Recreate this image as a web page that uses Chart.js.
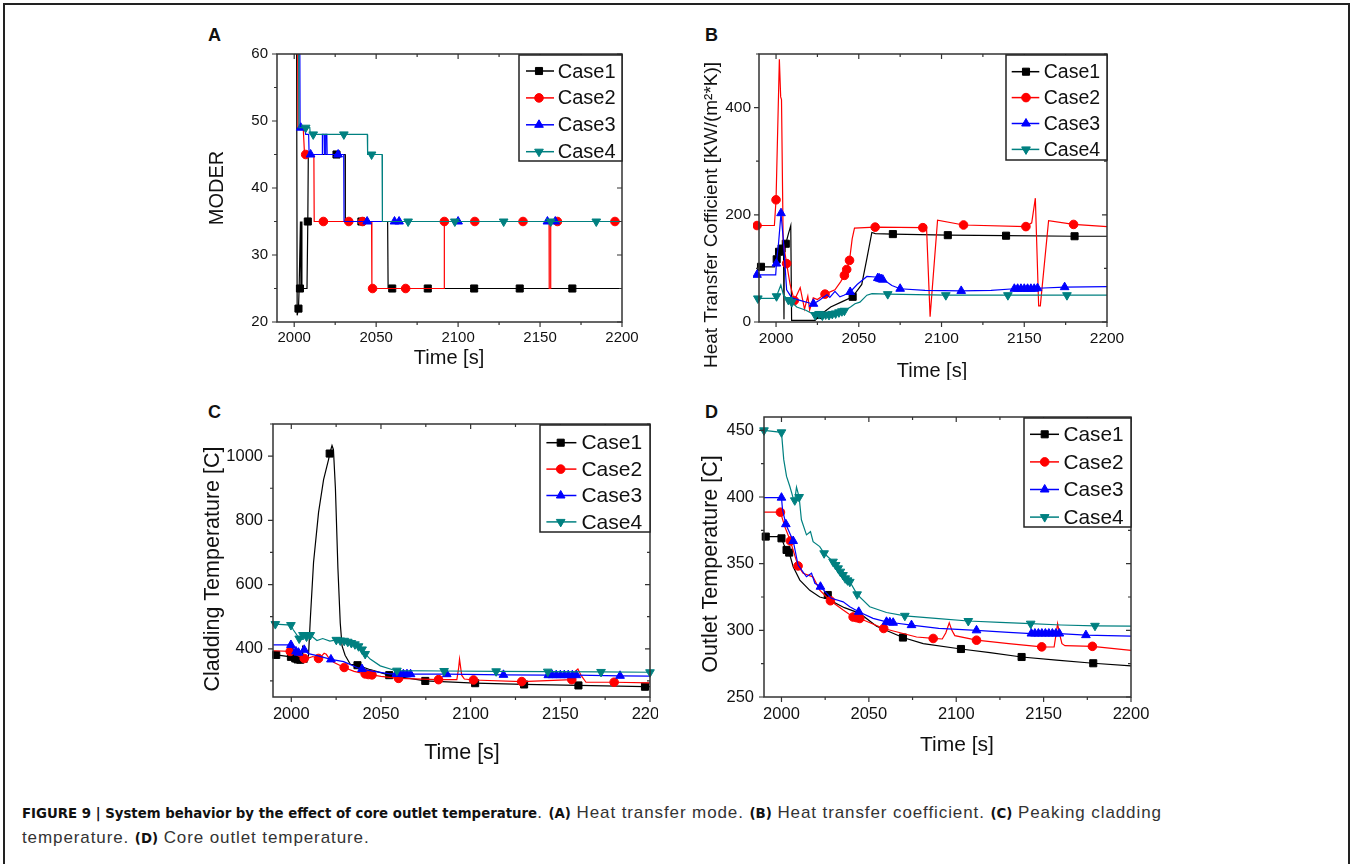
<!DOCTYPE html>
<html>
<head>
<meta charset="utf-8">
<script src="https://cdn.jsdelivr.net/npm/chart.js@4.4.1/dist/chart.umd.min.js"></script>
<style>
  html, body { margin: 0; padding: 0; background: #fff; }
  body { width: 1352px; height: 864px; position: relative; overflow: hidden; font-family: 'Liberation Sans', Arial, sans-serif; }
  .frame { position: absolute; left: 3px; top: 3px; width: 1343px; height: 900px; border: 2px solid #222; }
  canvas { position: absolute; }
  .tag { position: absolute; font-weight: bold; font-size: 18px; line-height: 1; color: #111; }
  .caption { position: absolute; left: 22px; top: 800px; white-space: nowrap; font-family: 'Liberation Sans', Arial, sans-serif; font-size: 17px; letter-spacing: 0.9px; line-height: 25px; color: #333; }
  .caption b { font-family: 'DejaVu Sans Condensed', 'Liberation Sans Narrow', sans-serif; font-size: 14.8px; letter-spacing: 0; color: #111; }
</style>
</head>
<body>
<div class="frame"></div>
<div class="tag" style="left:208px; top:25.6px">A</div>
<div class="tag" style="left:705px; top:25.6px">B</div>
<div class="tag" style="left:208px; top:402.6px">C</div>
<div class="tag" style="left:705px; top:402.6px">D</div>
<canvas id="chartA" width="460" height="360" style="left:180px; top:20px"></canvas>
<canvas id="chartB" width="460" height="360" style="left:680px; top:20px"></canvas>
<canvas id="chartC" width="478" height="380" style="left:180px; top:390px"></canvas>
<canvas id="chartD" width="470" height="375" style="left:690px; top:395px"></canvas>
<div class="caption"><b>FIGURE 9 | System behavior by the effect of core outlet temperature</b>. <b>(A)</b> Heat transfer mode. <b>(B)</b> Heat transfer coefficient. <b>(C)</b> Peaking cladding<br>temperature. <b>(D)</b> Core outlet temperature.</div>
<script>
// Series names and look
const caseNames = ['Case1', 'Case2', 'Case3', 'Case4'];
const caseColors = ['#000000', '#ff0000', '#0000ff', '#008080'];
const caseStyles = ['rect', 'circle', 'triangle', 'triangle'];
const caseRotation = [0, 0, 0, 180];
const caseRadius = [5, 4.3, 5, 5];

// Shared time axis ticks
const xTicks = [2000, 2025, 2050, 2075, 2100, 2125, 2150, 2175, 2200];
const xLabelled = [2000, 2050, 2100, 2150, 2200];

// (A) MODER: times, values, marker times
const modeT1 = [1990, 2001.4, 2001.8, 2002.6, 2003.0, 2003.5, 2003.8, 2004.1, 2004.4, 2004.7, 2005.0, 2007.8, 2008.3, 2008.6, 2025.8, 2031.0, 2031.2, 2041.0, 2057.0, 2057.3, 2059.8, 2081.5, 2109.8, 2137.6, 2169.7, 2200];
const modeV1 = [70, 70, 21, 22, 25, 25, 35, 25, 35, 25, 25, 25, 35, 45, 45, 45, 35, 35, 35, 25, 25, 25, 25, 25, 25, 25];
const modeM1 = [2002.6, 2003.5, 2008.3, 2025.8, 2041.0, 2059.8, 2081.5, 2109.8, 2137.6, 2169.7];
const modeT2 = [1990, 2002.0, 2002.3, 2005.5, 2006.3, 2007.0, 2012.0, 2012.2, 2017.8, 2033.3, 2041.7, 2047.2, 2047.4, 2047.8, 2068.0, 2091.5, 2091.6, 2110.2, 2139.6, 2155.5, 2155.6, 2156.4, 2156.5, 2160.6, 2195.7, 2200];
const modeV2 = [70, 70, 49, 49, 45, 45, 45, 35, 35, 35, 35, 35, 25, 25, 25, 25, 35, 35, 35, 35, 25, 25, 35, 35, 35, 35];
const modeM2 = [2007.0, 2017.8, 2033.3, 2041.7, 2047.8, 2068.0, 2091.6, 2110.2, 2139.6, 2160.6, 2195.7];
const modeT3 = [1990, 2003.3, 2003.6, 2004.0, 2006.5, 2007.0, 2008.8, 2009.1, 2010.0, 2017.0, 2017.2, 2018.2, 2018.4, 2019.0, 2019.2, 2019.9, 2020.1, 2026.8, 2030.2, 2030.4, 2044.5, 2061.2, 2064.0, 2100.0, 2154.5, 2159.3, 2200];
const modeV3 = [70, 70, 49, 49, 49, 48, 48, 45, 45, 45, 48, 48, 45, 45, 48, 48, 45, 45, 45, 35, 35, 35, 35, 35, 35, 35, 35];
const modeM3 = [2004.0, 2010.0, 2026.8, 2044.5, 2061.2, 2064.0, 2100.0, 2154.5, 2159.3];
const modeT4 = [1990, 2002.6, 2002.9, 2007.0, 2009.5, 2009.8, 2011.6, 2030.3, 2044.6, 2044.8, 2047.2, 2053.6, 2053.8, 2069.5, 2098.0, 2127.8, 2156.5, 2184.3, 2200];
const modeV4 = [70, 70, 49, 49, 49, 48, 48, 48, 48, 45, 45, 45, 35, 35, 35, 35, 35, 35, 35];
const modeM4 = [2007.0, 2011.6, 2030.3, 2047.2, 2069.5, 2098.0, 2127.8, 2156.5, 2184.3];
const modeYTicks = [20, 25, 30, 35, 40, 45, 50, 55, 60];
const modeYLabelled = [20, 30, 40, 50, 60];

// (B) heat transfer coefficient
const htcT1 = [1990, 1990.9, 1999.0, 2000.4, 2001.8, 2003.4, 2004.5, 2004.8, 2005.0, 2005.9, 2007.5, 2008.9, 2009.4, 2023.6, 2026.6, 2033.0, 2040.0, 2046.3, 2051.8, 2055.0, 2057.9, 2060.0, 2070.6, 2103.8, 2139.0, 2180.4, 2200];
const htcV1 = [103, 103, 103, 117, 131, 137, 142, 5, 140, 146, 165, 180, 3, 3, 13, 28, 38, 47, 70, 120, 167, 165, 164, 162, 161, 160, 160];
const htcM1 = [1990.9, 2000.4, 2001.8, 2003.4, 2005.9, 2026.6, 2046.3, 2070.6, 2103.8, 2139.0, 2180.4];
const htcT2 = [1988.5, 1999.0, 2000.0, 2002.0, 2002.8, 2003.3, 2004.3, 2006.4, 2008.5, 2011.0, 2014.6, 2017.2, 2019.2, 2020.3, 2022.5, 2025.0, 2029.6, 2035.6, 2039.0, 2041.3, 2042.7, 2044.4, 2046.0, 2047.4, 2059.9, 2088.7, 2091.0, 2093.1, 2097.6, 2113.3, 2151.0, 2154.5, 2156.7, 2158.7, 2159.7, 2164.7, 2179.8, 2200];
const htcV2 = [180, 180, 228, 490, 420, 415, 150, 109, 70, 40, 64, 24, 48, 22, 45, 42, 52, 60, 75, 87, 98, 115, 155, 175, 177, 176, 172, 10, 190, 181, 178, 185, 231, 30, 30, 189, 182, 178];
const htcM2 = [1988.5, 2000.0, 2006.4, 2011.0, 2029.6, 2041.3, 2042.7, 2044.4, 2059.9, 2088.7, 2113.3, 2151.0, 2179.8];
const htcT3 = [1988.5, 1999.8, 2000.2, 2001.6, 2003.0, 2004.5, 2006.4, 2009.5, 2015.0, 2020.7, 2022.6, 2026.0, 2030.7, 2032.5, 2035.6, 2038.6, 2041.0, 2044.8, 2049.0, 2054.9, 2059.9, 2061.5, 2062.5, 2063.5, 2064.5, 2065.5, 2070.0, 2075.0, 2090.0, 2111.9, 2130.0, 2144.0, 2146.0, 2148.0, 2150.0, 2152.0, 2154.0, 2156.0, 2158.0, 2174.4, 2200];
const htcV3 = [88, 88, 109, 150, 203, 150, 60, 45, 40, 35, 34, 40, 51, 46, 57, 47, 50, 56, 70, 85, 84, 82, 81, 80, 79, 78, 68, 62, 59, 58, 59, 62, 62, 62, 62, 62, 62, 62, 63, 65, 66];
const htcM3 = [1988.5, 2000.2, 2003.0, 2022.6, 2044.8, 2061.5, 2062.5, 2063.5, 2064.5, 2075.0, 2111.9, 2144.0, 2146.0, 2148.0, 2150.0, 2152.0, 2154.0, 2156.0, 2158.0, 2174.4];
const htcT4 = [1989.0, 1999.8, 2000.3, 2002.9, 2004.5, 2007.5, 2009.5, 2012.5, 2018.0, 2023.6, 2026.0, 2028.0, 2030.0, 2032.0, 2034.0, 2036.0, 2038.0, 2039.8, 2041.3, 2045.0, 2047.7, 2050.7, 2054.9, 2058.0, 2067.5, 2102.6, 2140.1, 2175.8, 2200];
const htcV4 = [44, 44, 48, 69, 50, 41, 37, 28, 22, 13, 15, 12, 14, 13, 15, 16, 18, 20, 21, 28, 34, 37, 50, 53, 52, 50, 50, 50, 50];
const htcM4 = [1989.0, 2000.3, 2007.5, 2009.5, 2023.6, 2026.0, 2028.0, 2030.0, 2032.0, 2034.0, 2036.0, 2038.0, 2039.8, 2041.3, 2067.5, 2102.6, 2140.1, 2175.8];
const htcYTicks = [0, 100, 200, 300, 400, 500];
const htcYLabelled = [0, 200, 400];

// (C) peak cladding temperature
const cladT1 = [1990, 1991.6, 1999.8, 2002.2, 2003.5, 2005.0, 2006.0, 2006.3, 2006.6, 2008.7, 2009.6, 2010.6, 2012.4, 2015.2, 2018.0, 2020.8, 2021.4, 2022.7, 2023.5, 2024.6, 2026.0, 2027.3, 2028.3, 2030.0, 2032.9, 2036.9, 2044.0, 2054.6, 2074.7, 2102.5, 2129.8, 2160.1, 2197.2, 2200];
const cladV1 = [381, 381, 375, 370, 367, 366, 362, 410, 362, 358, 380, 492, 669, 825, 927, 990, 1008, 1033, 1020, 900, 650, 480, 409, 380, 352, 349, 335, 318, 300, 293, 289, 286, 282, 282];
const cladM1 = [1991.6, 1999.8, 2002.2, 2003.5, 2005.0, 2021.4, 2036.9, 2054.6, 2074.7, 2102.5, 2129.8, 2160.1, 2197.2];
const cladT2 = [1990, 1999.4, 2002.0, 2005.0, 2007.2, 2009.5, 2012.0, 2015.2, 2017.0, 2018.3, 2019.5, 2020.5, 2023.6, 2029.5, 2035.0, 2041.2, 2043.0, 2045.0, 2050.0, 2059.8, 2082.1, 2092.3, 2093.3, 2093.8, 2095.0, 2096.5, 2101.6, 2128.5, 2156.4, 2158.3, 2159.8, 2161.5, 2164.3, 2180.0, 2200];
const cladV2 = [394, 392, 384, 375, 370, 371, 376, 370, 378, 386, 383, 375, 358, 342, 330, 322, 320, 319, 314, 308, 304, 304, 340, 368, 318, 306, 303, 298, 304, 330, 337, 318, 296, 296, 294];
const cladM2 = [1999.4, 2007.2, 2015.2, 2029.5, 2041.2, 2043.0, 2045.0, 2059.8, 2082.1, 2101.6, 2128.5, 2156.4, 2180.0];
const cladT3 = [1990, 1999.8, 2001.0, 2002.6, 2004.0, 2005.5, 2007.2, 2009.5, 2015.0, 2022.1, 2029.2, 2036.6, 2039.4, 2046.0, 2055.0, 2058.6, 2060.5, 2062.5, 2064.5, 2066.5, 2075.0, 2086.7, 2118.3, 2143.3, 2145.5, 2147.7, 2150.0, 2152.2, 2154.4, 2156.7, 2159.0, 2183.3, 2200];
const cladV3 = [412, 412, 400, 392, 388, 392, 397, 385, 378, 367, 360, 342, 337, 330, 322, 322, 322, 321, 321, 321, 321, 321, 319, 318, 318, 318, 318, 318, 318, 318, 318, 316, 315];
const cladM3 = [1999.8, 2002.6, 2004.0, 2007.2, 2022.1, 2039.4, 2058.6, 2060.5, 2062.5, 2064.5, 2066.5, 2086.7, 2118.3, 2143.3, 2145.5, 2147.7, 2150.0, 2152.2, 2154.4, 2156.7, 2159.0, 2183.3];
const cladT4 = [1990, 1991.1, 1999.8, 2001.0, 2003.5, 2004.4, 2006.5, 2008.5, 2010.6, 2014.3, 2017.5, 2021.5, 2025.1, 2027.3, 2029.5, 2031.5, 2033.5, 2035.5, 2037.5, 2039.5, 2041.2, 2044.0, 2049.6, 2057.0, 2058.9, 2085.2, 2114.2, 2143.0, 2172.7, 2200];
const cladV4 = [477, 477, 474, 460, 440, 432, 443, 438, 443, 426, 432, 424, 428, 426, 425, 422, 418, 414, 408, 398, 384, 368, 347, 334, 332, 331, 330, 329, 328, 327];
const cladM4 = [1991.1, 1999.8, 2004.4, 2006.5, 2008.5, 2010.6, 2025.1, 2027.3, 2029.5, 2031.5, 2033.5, 2035.5, 2037.5, 2039.5, 2041.2, 2058.9, 2085.2, 2114.2, 2143.0, 2172.7, 2200];
const cladYTicks = [300, 400, 500, 600, 700, 800, 900, 1000, 1100];
const cladYLabelled = [400, 600, 800, 1000];

// (D) core outlet temperature
const outT1 = [1990, 1991.0, 1999.0, 2000.0, 2001.5, 2002.9, 2004.4, 2006.7, 2010.5, 2016.2, 2021.9, 2024.8, 2026.5, 2030.0, 2036.0, 2044.8, 2054.4, 2069.5, 2081.1, 2102.7, 2119.3, 2137.4, 2157.4, 2178.4, 2200];
const outV1 = [370.3, 370.3, 370.3, 369, 364, 360.3, 358.3, 347.7, 337.7, 330, 325, 324, 326.5, 321, 317, 312.7, 303, 294.6, 290, 286, 283.3, 280, 277.6, 275.3, 273.3];
const outM1 = [1991.0, 2000.0, 2002.9, 2004.4, 2026.5, 2069.5, 2102.7, 2137.4, 2178.4];
const outT2 = [1990, 1999.4, 2001.9, 2005.1, 2006.7, 2009.5, 2012.4, 2016.0, 2018.1, 2021.9, 2028.0, 2035.3, 2041.0, 2043.0, 2044.8, 2058.5, 2077.3, 2086.8, 2092.0, 2094.0, 2096.0, 2097.5, 2099.2, 2111.6, 2130.0, 2148.9, 2156.0, 2157.0, 2158.0, 2159.0, 2160.5, 2162.2, 2177.9, 2200];
const outV2 = [388.6, 388.6, 377.8, 367, 360, 348.3, 342.8, 341, 340, 330.2, 322.2, 315.2, 310, 309.5, 308.9, 301.4, 295, 293.9, 293.5, 298, 305.6, 300, 296, 292.6, 290, 287.6, 287.5, 296, 305, 298, 290, 288.5, 288, 285];
const outM2 = [1999.4, 2005.1, 2009.5, 2028.0, 2041.0, 2043.0, 2044.8, 2058.5, 2086.8, 2111.6, 2148.9, 2177.9];
const outT3 = [1990, 2000.0, 2000.6, 2002.5, 2006.7, 2009.5, 2014.3, 2017.2, 2019.1, 2022.3, 2028.6, 2035.3, 2039.1, 2044.2, 2052.4, 2060.1, 2062.0, 2063.9, 2074.4, 2090.0, 2111.6, 2130.0, 2143.0, 2145.0, 2147.0, 2149.0, 2151.0, 2153.0, 2155.0, 2157.0, 2159.0, 2174.2, 2200];
const outV3 = [399.5, 399.5, 390.5, 379.6, 367, 349, 340.2, 342.8, 335.3, 332.7, 324, 321.4, 317.7, 313.9, 309, 306.4, 306, 305.7, 303.9, 301.5, 300, 298.5, 297.6, 297.6, 297.6, 297.6, 297.6, 297.6, 297.6, 297.6, 297.6, 296.4, 295.6];
const outM3 = [2000.0, 2002.5, 2006.7, 2022.3, 2044.2, 2060.1, 2062.0, 2063.9, 2074.4, 2111.6, 2143.0, 2145.0, 2147.0, 2149.0, 2151.0, 2153.0, 2155.0, 2157.0, 2159.0, 2174.2];
const outT4 = [1990, 2000.0, 2001.3, 2002.9, 2004.8, 2006.7, 2007.6, 2008.6, 2010.1, 2011.4, 2014.3, 2016.6, 2018.1, 2021.9, 2024.4, 2029.5, 2031.0, 2032.4, 2033.7, 2035.2, 2036.5, 2037.8, 2039.1, 2043.3, 2050.5, 2060.1, 2070.6, 2090.0, 2106.9, 2125.0, 2142.6, 2160.0, 2179.4, 2200];
const outV4 = [450, 448.5, 428, 415.4, 407.9, 399.2, 397.5, 407.4, 400, 382.9, 371.6, 374, 366.5, 362.8, 357.8, 351.5, 349, 346.5, 344, 341.5, 339, 337.5, 336.4, 327, 317.7, 313.4, 310.9, 308.8, 307, 306, 305, 304, 303.4, 303.1];
const outM4 = [1990, 2000.0, 2007.6, 2010.1, 2024.4, 2029.5, 2031.0, 2032.4, 2033.7, 2035.2, 2036.5, 2037.8, 2039.1, 2043.3, 2070.6, 2106.9, 2142.6, 2179.4];
const outYTicks = [250, 275, 300, 325, 350, 375, 400, 425, 450];
const outYLabelled = [250, 300, 350, 400, 450];

const FONT = "'Liberation Sans', Arial, sans-serif";
Chart.defaults.font.family = FONT;
Chart.defaults.color = '#111';
Chart.defaults.animation = false;

// Box, Origin style ticks, legend and axis titles
const figurePlugin = {
  id: 'figure',
  afterDatasetsDraw(chart, args, o) {
    const { ctx, chartArea: a } = chart;
    const sx = chart.scales.x, sy = chart.scales.y;
    const [ox, oy] = o.pos;
    ctx.save();
    ctx.strokeStyle = '#333';
    ctx.lineWidth = 1.5;
    ctx.strokeRect(a.left, a.top, a.right - a.left, a.bottom - a.top);

    ctx.lineWidth = 1.2;
    ctx.beginPath();
    sx.ticks.forEach(t => {
      const p = sx.getPixelForValue(t.value);
      const len = t.label ? 5 : 3;
      ctx.moveTo(p, a.bottom); ctx.lineTo(p, a.bottom + len);
      ctx.moveTo(p, a.top); ctx.lineTo(p, a.top + len);
    });
    sy.ticks.forEach(t => {
      const p = sy.getPixelForValue(t.value);
      const len = t.label ? 5 : 3;
      ctx.moveTo(a.left, p); ctx.lineTo(a.left - len, p);
      ctx.moveTo(a.right, p); ctx.lineTo(a.right - len, p);
    });
    ctx.stroke();

    // legend
    const L = o.legend;
    const bx = a.right - L.w, by = a.top + 1;
    ctx.fillStyle = '#fff';
    ctx.fillRect(bx, by, L.w, L.h);
    ctx.strokeStyle = '#222';
    ctx.lineWidth = 1.5;
    ctx.strokeRect(bx, by, L.w, L.h);
    ctx.font = L.size + 'px ' + FONT;
    ctx.textBaseline = 'middle';
    ctx.textAlign = 'left';
    chart.data.datasets.forEach((ds, i) => {
      const yy = by + L.row0 + i * L.step;
      ctx.strokeStyle = caseColors[i];
      ctx.fillStyle = caseColors[i];
      ctx.lineWidth = 1.5;
      ctx.beginPath();
      ctx.moveTo(bx + L.line[0], yy);
      ctx.lineTo(bx + L.line[1], yy);
      ctx.stroke();
      ctx.lineWidth = 1;
      Chart.helpers.drawPoint(ctx, { pointStyle: caseStyles[i], rotation: caseRotation[i], radius: caseRadius[i], borderWidth: 1 }, bx + L.mark, yy);
      ctx.fillStyle = '#111';
      ctx.fillText(ds.label, bx + L.text, yy + 1);
    });

    // axis titles
    ctx.fillStyle = '#111';
    ctx.textAlign = 'center';
    ctx.font = o.xTitle.size + 'px ' + FONT;
    ctx.fillText(o.xTitle.text, o.xTitle.x - ox, o.xTitle.y - oy);
    ctx.translate(o.yTitle.x - ox, o.yTitle.y - oy);
    ctx.rotate(-Math.PI / 2);
    ctx.font = o.yTitle.size + 'px ' + FONT;
    ctx.fillText(o.yTitle.text, 0, 0);
    ctx.restore();
  }
};

function buildPanel(id, p) {
  const datasets = p.series.map((s, i) => ({
    label: caseNames[i],
    data: s.t.map((t, k) => ({ x: t, y: s.v[k] })),
    borderColor: caseColors[i],
    backgroundColor: caseColors[i],
    borderWidth: 1.2,
    pointStyle: caseStyles[i],
    pointRotation: caseRotation[i],
    pointRadius: c => (c.raw && s.m.includes(c.raw.x)) ? caseRadius[i] : 0,
    pointHoverRadius: 0,
    pointBorderWidth: 1,
    order: 3 - i,
    clip: { left: 6, top: 0, right: 6, bottom: 6 }
  }));

  return new Chart(document.getElementById(id), {
    type: 'line',
    data: { datasets },
    plugins: [figurePlugin],
    options: {
      responsive: false,
      animation: false,
      events: [],
      layout: { padding: { left: 0, top: p.padTop, right: p.padRight, bottom: 0 } },
      scales: {
        x: {
          type: 'linear',
          min: p.xMin,
          max: 2200,
          afterBuildTicks: sc => { sc.ticks = xTicks.map(v => ({ value: v })); },
          afterFit: sc => { sc.height = p.xH; sc.paddingLeft = 0; sc.paddingRight = 0; },
          ticks: {
            callback: v => xLabelled.includes(v) ? String(v) : '',
            autoSkip: false,
            maxRotation: 0,
            font: { size: p.tickSize },
            color: '#111',
            padding: p.xPad
          },
          grid: { display: false, drawTicks: false },
          border: { display: false }
        },
        y: {
          type: 'linear',
          min: p.yMin,
          max: p.yMax,
          afterBuildTicks: sc => { sc.ticks = p.yTicks.map(v => ({ value: v })); },
          afterFit: sc => { sc.width = p.yW; sc.paddingTop = 0; sc.paddingBottom = 0; },
          ticks: {
            callback: v => p.yLabelled.includes(v) ? String(v) : '',
            autoSkip: false,
            font: { size: p.tickSize },
            color: '#111',
            padding: p.yPad
          },
          grid: { display: false, drawTicks: false },
          border: { display: false }
        }
      },
      plugins: {
        legend: { display: false },
        tooltip: { enabled: false },
        figure: { pos: p.pos, legend: p.legend, xTitle: p.xTitle, yTitle: p.yTitle }
      }
    }
  });
}

buildPanel('chartA', {
  pos: [180, 20],
  series: [
    { t: modeT1, v: modeV1, m: modeM1 },
    { t: modeT2, v: modeV2, m: modeM2 },
    { t: modeT3, v: modeV3, m: modeM3 },
    { t: modeT4, v: modeV4, m: modeM4 }
  ],
  xMin: 1989.5, yMin: 20, yMax: 60,
  yTicks: modeYTicks, yLabelled: modeYLabelled,
  yW: 97, xH: 58, padTop: 34, padRight: 18,
  tickSize: 15, xPad: 7, yPad: 9,
  legend: { w: 103, h: 106, row0: 16, step: 26.9, line: [7, 35], mark: 20, text: 38.7, size: 20 },
  xTitle: { text: 'Time [s]', x: 449, y: 358, size: 20 },
  yTitle: { text: 'MODER', x: 217, y: 188, size: 20 }
});

buildPanel('chartB', {
  pos: [680, 20],
  series: [
    { t: htcT1, v: htcV1, m: htcM1 },
    { t: htcT2, v: htcV2, m: htcM2 },
    { t: htcT3, v: htcV3, m: htcM3 },
    { t: htcT4, v: htcV4, m: htcM4 }
  ],
  xMin: 1989.7, yMin: 0, yMax: 500,
  yTicks: htcYTicks, yLabelled: htcYLabelled,
  yW: 79, xH: 58, padTop: 34, padRight: 33,
  tickSize: 15.5, xPad: 7, yPad: 8,
  legend: { w: 101, h: 105, row0: 16.7, step: 25.9, line: [5.7, 33.3], mark: 20, text: 37.7, size: 19.5 },
  xTitle: { text: 'Time [s]', x: 932, y: 371, size: 20 },
  yTitle: { text: 'Heat Transfer Cofficient [KW/(m²*K)]', x: 712, y: 215, size: 19 }
});

buildPanel('chartC', {
  pos: [180, 390],
  series: [
    { t: cladT1, v: cladV1, m: cladM1 },
    { t: cladT2, v: cladV2, m: cladM2 },
    { t: cladT3, v: cladV3, m: cladM3 },
    { t: cladT4, v: cladV4, m: cladM4 }
  ],
  xMin: 1989.8, yMin: 250, yMax: 1100,
  yTicks: cladYTicks, yLabelled: cladYLabelled,
  yW: 93, xH: 73, padTop: 34, padRight: 8,
  tickSize: 16.5, xPad: 8, yPad: 10,
  legend: { w: 110, h: 107, row0: 17.7, step: 26.4, line: [6.4, 36.4], mark: 20.7, text: 41.4, size: 21 },
  xTitle: { text: 'Time [s]', x: 462, y: 753, size: 21.5 },
  yTitle: { text: 'Cladding Temperature [C]', x: 213, y: 569, size: 21.5 }
});

buildPanel('chartD', {
  pos: [690, 395],
  series: [
    { t: outT1, v: outV1, m: outM1 },
    { t: outT2, v: outV2, m: outM2 },
    { t: outT3, v: outV3, m: outM3 },
    { t: outT4, v: outV4, m: outM4 }
  ],
  xMin: 1990, yMin: 250, yMax: 460,
  yTicks: outYTicks, yLabelled: outYLabelled,
  yW: 74, xH: 73, padTop: 22, padRight: 29,
  tickSize: 16.5, xPad: 8, yPad: 10,
  legend: { w: 107, h: 109, row0: 16.3, step: 27.6, line: [6, 35], mark: 20.7, text: 39.4, size: 20.8 },
  xTitle: { text: 'Time [s]', x: 957, y: 745, size: 21 },
  yTitle: { text: 'Outlet Temperature [C]', x: 711, y: 564, size: 21.5 }
});
</script>
</body>
</html>
